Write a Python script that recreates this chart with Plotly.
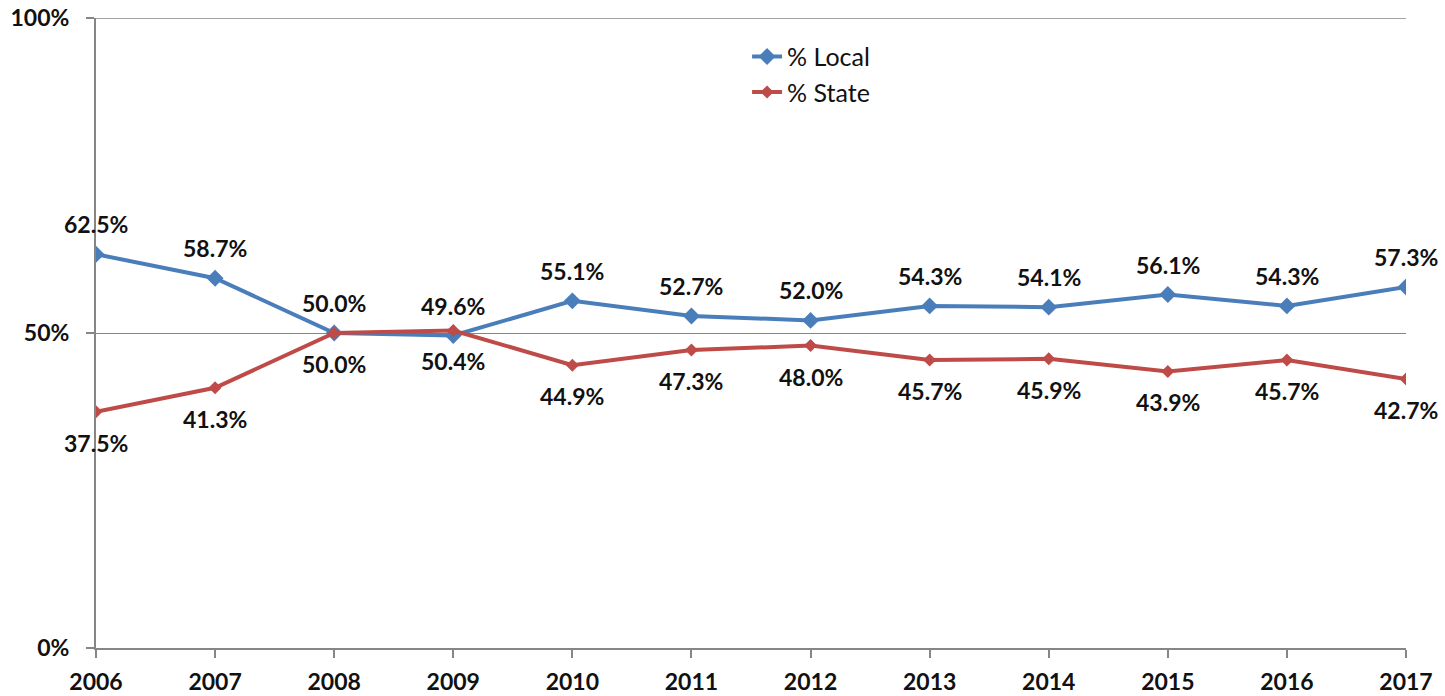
import plotly.graph_objects as go

years = [2006, 2007, 2008, 2009, 2010, 2011, 2012, 2013, 2014, 2015, 2016, 2017]
local_pct = [62.5, 58.7, 50.0, 49.6, 55.1, 52.7, 52.0, 54.3, 54.1, 56.1, 54.3, 57.3]
state_pct = [37.5, 41.3, 50.0, 50.4, 44.9, 47.3, 48.0, 45.7, 45.9, 43.9, 45.7, 42.7]
y_ticks = [0, 50, 100]
y_tick_text = ["0%", "50%", "100%"]

blue = "#4A7EBB"
red = "#BE4B48"
axis_gray = "#868686"
font_family = "Lato, Open Sans, sans-serif"

fig = go.Figure()
fig.add_trace(go.Scatter(
    x=years, y=local_pct, mode="lines+markers", name="% Local",
    line=dict(color=blue, width=4),
    marker=dict(symbol="diamond", size=13, color=blue),
))
fig.add_trace(go.Scatter(
    x=years, y=state_pct, mode="lines+markers", name="% State",
    line=dict(color=red, width=4),
    marker=dict(symbol="diamond", size=10, color=red),
))

label_font = dict(family=font_family, size=23, color="#111", weight="bold")
annotations = []
for x, v in zip(years, local_pct):
    annotations.append(dict(x=x, y=v, text=f"{v:.1f}%", showarrow=False, yshift=30,
                            font=label_font))
for x, v in zip(years, state_pct):
    annotations.append(dict(x=x, y=v, text=f"{v:.1f}%", showarrow=False, yshift=-31,
                            font=label_font))

fig.update_layout(
    template="none",
    width=1445, height=696,
    margin=dict(l=96, r=39, t=18, b=48, autoexpand=False),
    paper_bgcolor="white", plot_bgcolor="white",
    font=dict(family=font_family, color="#111"),
    annotations=annotations,
    shapes=[dict(type="line", xref="paper", yref="y", x0=0, x1=1,
                 y0=y_ticks[-1], y1=y_ticks[-1], line=dict(color=axis_gray, width=1.5))],
    showlegend=True,
    legend=dict(x=0.497, y=0.975, xanchor="left", yanchor="top",
                font=dict(family=font_family, size=25, color="#111"),
                bgcolor="rgba(0,0,0,0)", borderwidth=0, tracegroupgap=0, itemwidth=30),
)
tick_font = dict(family=font_family, size=23, color="#111", weight="bold")
fig.update_xaxes(
    range=[2006, 2017], tickmode="array", tickvals=years, ticktext=[str(y) for y in years],
    showgrid=False, showline=True, linecolor=axis_gray, linewidth=2,
    ticks="outside", ticklen=8, tickcolor=axis_gray, tickwidth=1.5,
    tickfont=tick_font, ticklabelstandoff=4, automargin=False,
    zeroline=False, fixedrange=True,
)
fig.update_yaxes(
    range=[0, 100], tickmode="array", tickvals=y_ticks, ticktext=y_tick_text,
    showgrid=True, gridcolor=axis_gray, gridwidth=1,
    showline=True, linecolor=axis_gray, linewidth=2,
    ticks="outside", ticklen=8, tickcolor=axis_gray, tickwidth=1.5,
    tickfont=tick_font, ticklabelstandoff=12, automargin=False,
    zeroline=False, fixedrange=True,
)

fig.write_html("out.html", config={"displayModeBar": False},
               post_script="document.body.style.margin='0';document.body.style.overflow='hidden';")
